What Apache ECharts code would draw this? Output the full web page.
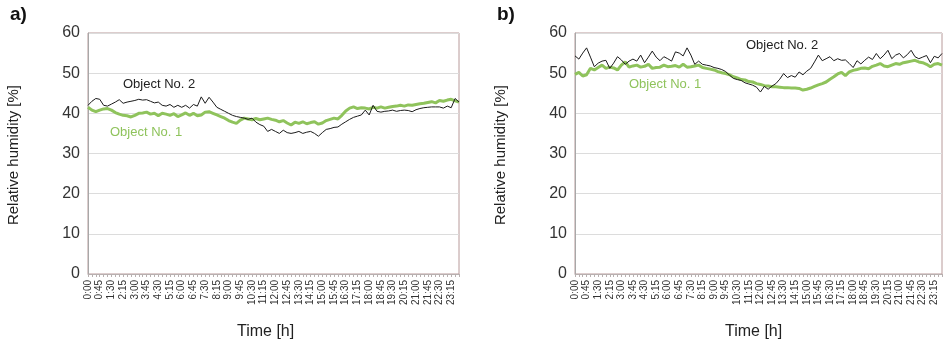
<!DOCTYPE html>
<html>
<head>
<meta charset="utf-8">
<script src="https://cdn.jsdelivr.net/npm/echarts@6/dist/echarts.min.js"></script>
<style>
  html, body { margin: 0; padding: 0; background: #fff; }
  #chart { width: 946px; height: 346px; }
</style>
</head>
<body>
<div id="chart"></div>
<script>
  // 15 min steps over a day
  const times = []
  for (let h = 0; h < 24; h++) {
    for (let m = 0; m < 60; m += 15) {
      times.push(h + ':' + (m < 10 ? '0' + m : m))
    }
  }
  const yTicks = [0, 10, 20, 30, 40, 50, 60]

  // panel a)
  const aObject1 = [41.5, 40.8, 40.4, 40.8, 41.1, 41.2, 40.8, 40.2, 39.8, 39.5, 39.4, 39.1, 39.5, 40, 40.1, 40.3,
    39.8, 40, 39.4, 40, 39.8, 39.5, 39.9, 39.2, 39.6, 40.1, 39.5, 40, 39.4, 39.6, 40.3, 40.4,
    40, 39.6, 39.2, 38.8, 38.2, 37.8, 37.5, 38.3, 38.8, 38.6, 38.4, 38.7, 38.4, 38.6, 38.8, 38.5,
    38.3, 37.9, 38.2, 37.6, 37.1, 37.8, 37.5, 37.9, 37.4, 37.7, 37.9, 37.3, 37.6, 38.2, 38.5, 38.8,
    38.6, 39.5, 40.6, 41.3, 41.6, 41.2, 41.4, 41.3, 41.1, 41.5, 41.3, 41.6, 41.3, 41.5, 41.7, 41.8,
    42, 41.8, 42.1, 42, 42.2, 42.4, 42.5, 42.7, 42.9, 42.6, 43.2, 43, 43.3, 43.5, 43.1, 42.8]
  const aObject2 = [42, 43, 43.7, 43.5, 42, 41.8, 42.3, 42.8, 43.4, 42.5, 42.8, 43, 43.2, 43.5, 43.3, 43.4,
    43, 42.6, 42.8, 42, 41.8, 42.2, 41.5, 42, 41.5, 42, 41.3, 42.2, 41.8, 44.1, 42.5, 44,
    42.8, 41.5, 41, 40.5, 40, 39.5, 39.2, 39, 38.8, 38.5, 38.8, 37.8, 37.2, 36.8, 35.5, 36,
    35.5, 35, 35.8, 35.2, 35, 35.2, 35.5, 35, 35.3, 35.5, 35, 34.3, 35.2, 36, 36.2, 36.5,
    36.6, 37.3, 37.9, 38.5, 39, 39.3, 39.6, 40.8, 39.6, 42, 40.5, 40.3, 40.5, 40.6, 40.8, 40.5,
    40.7, 40.8, 40.7, 40.4, 40.9, 41.2, 41.4, 41.5, 41.6, 41.6, 41.6, 41.3, 41.8, 41.4, 43.7, 42.8]

  // panel b)
  const bObject1 = [49.7, 50.2, 49.3, 49.6, 51.2, 50.8, 51.4, 52, 51.2, 51.5, 51.3, 50.8, 52, 52.8, 51.5, 51.8,
    52, 51.5, 51.7, 52.2, 51.2, 51.4, 51.5, 52, 51.6, 51.7, 51.9, 51.5, 52.2, 51.5, 51.6, 51.8,
    52, 51.4, 51.2, 51, 50.8, 50.4, 50.1, 49.9, 49.6, 49.1, 48.8, 48.4, 48.3, 47.9, 47.8, 47.4,
    47.2, 46.9, 46.8, 46.6, 46.6, 46.5, 46.4, 46.4, 46.3, 46.3, 46.2, 45.8, 46, 46.3, 46.7, 47.1,
    47.4, 47.8, 48.5, 49.1, 49.8, 50.2, 49.4, 50.3, 50.7, 50.9, 51.2, 51.3, 51.1, 51.7, 52, 52.4,
    51.8, 51.6, 52, 52.4, 52.2, 52.6, 52.8, 53, 53.2, 52.8, 52.6, 52.2, 51.6, 52.2, 52.4, 52]
  const bObject2 = [54.3, 53.5, 55, 56.3, 54, 51.6, 52.5, 53, 53.2, 51.2, 52.5, 54.1, 53.3, 52.2, 53, 53.5,
    53, 54.5, 52.6, 54, 55.5, 54, 53.1, 54.1, 53.6, 53, 55.3, 55, 54.3, 56.3, 54.5, 52.2,
    53, 52.2, 52, 51.8, 51.4, 51.2, 50.9, 50.4, 49.5, 48.7, 48.4, 48.2, 47.6, 47.3, 47, 46.5,
    45.3, 46.7, 46, 46.8, 47.4, 48.5, 49.9, 48.9, 49.4, 49, 50.3, 49.6, 50.5, 51.2, 52.8, 54.5,
    53.1, 53.6, 54.1, 53.1, 53.6, 53.2, 53.3, 52.4, 51.4, 53.1, 52.3, 53.2, 54, 53.4, 54.9, 53.6,
    54.5, 55.7, 53.6, 54.5, 54.9, 53.8, 54.6, 55.7, 54.1, 53.6, 54, 54.4, 52.6, 54.2, 53.8, 54.9]

  const font = 'Liberation Sans, Arial, sans-serif'
  const green = '#8fc35c'

  function xAxisFor(idx) {
    return {
      type: 'category',
      gridIndex: idx,
      data: times,
      boundaryGap: false,
      axisLine: {lineStyle: {color: '#b8b0b0', width: 1}},
      axisTick: {show: true, interval: 0, length: 3, lineStyle: {color: '#b8b0b0'}},
      axisLabel: {interval: 2, rotate: 90, fontSize: 10, color: '#333', margin: 6, fontFamily: font},
      splitLine: {show: false}
    }
  }

  function yAxisFor(idx) {
    return {
      type: 'value',
      gridIndex: idx,
      min: yTicks[0],
      max: yTicks[yTicks.length - 1],
      interval: 10,
      axisLine: {show: true, lineStyle: {color: '#a8a8a8'}},
      axisTick: {show: false},
      axisLabel: {fontSize: 16, color: '#333', margin: 8, fontFamily: font},
      splitLine: {lineStyle: {color: '#dcdcdc'}}
    }
  }

  function lineSeries(name, idx, data, color, width, z) {
    return {
      name: name,
      type: 'line',
      xAxisIndex: idx,
      yAxisIndex: idx,
      data: data,
      symbol: 'none',
      z: z,
      lineStyle: {color: color, width: width}
    }
  }

  function label(text, x, y, opts) {
    return {
      type: 'text',
      left: x,
      top: y,
      style: Object.assign({text: text, font: '13px ' + font, fill: '#222'}, opts || {})
    }
  }

  const chart = echarts.init(document.getElementById('chart'))
  chart.setOption({
    animation: false,
    grid: [
      {left: 88, right: 487, top: 33, bottom: 72, show: true, borderColor: '#b89a9a', borderWidth: 1},
      {left: 575, right: 4, top: 33, bottom: 72, show: true, borderColor: '#b89a9a', borderWidth: 1}
    ],
    xAxis: [xAxisFor(0), xAxisFor(1)],
    yAxis: [yAxisFor(0), yAxisFor(1)],
    series: [
      lineSeries('Object No. 1', 0, aObject1, green, 3, 2),
      lineSeries('Object No. 2', 0, aObject2, '#1a1a1a', 1, 3),
      lineSeries('Object No. 1', 1, bObject1, green, 3, 2),
      lineSeries('Object No. 2', 1, bObject2, '#1a1a1a', 1, 3)
    ],
    graphic: [
      label('a)', 10, 5, {font: 'bold 19px ' + font, fill: '#111'}),
      label('b)', 497, 5, {font: 'bold 19px ' + font, fill: '#111'}),
      {
        type: 'text', left: 6, top: 85, rotation: Math.PI / 2,
        style: {text: 'Relative humidity [%]', font: '15px ' + font, fill: '#222'}
      },
      {
        type: 'text', left: 493, top: 85, rotation: Math.PI / 2,
        style: {text: 'Relative humidity [%]', font: '15px ' + font, fill: '#222'}
      },
      label('Time [h]', 237, 324, {font: '16px ' + font}),
      label('Time [h]', 725, 324, {font: '16px ' + font}),
      label('Object No. 2', 123, 78),
      label('Object No. 1', 110, 126, {fill: green}),
      label('Object No. 2', 746, 39),
      label('Object No. 1', 629, 78, {fill: green})
    ]
  })
</script>
</body>
</html>
